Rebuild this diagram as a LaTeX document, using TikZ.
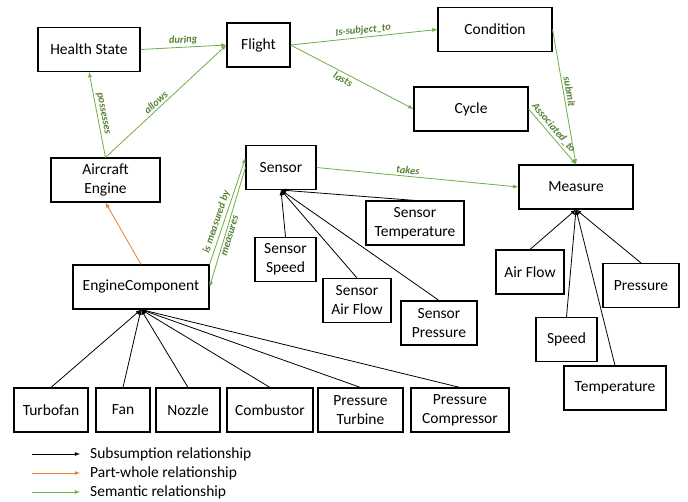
\documentclass[tikz,border=0pt]{standalone}
\usepackage{fontspec}
\setmainfont{Carlito}
\usepackage{xcolor}
\definecolor{semgreen}{HTML}{70AD47}
\definecolor{labgreen}{HTML}{548235}
\definecolor{partorange}{HTML}{ED7D31}

\begin{document}
\begin{tikzpicture}[x=1pt,y=-1pt,
    box/.style={draw, line width=1.1pt, inner sep=0pt, minimum height=44pt, align=center,
        font=\fontsize{15.5}{19}\selectfont},
    sub/.style={-latex, line width=0.8pt},
    part/.style={-latex, partorange, line width=0.8pt},
    sem/.style={-latex, semgreen, line width=0.8pt},
    rel/.style={sloped, inner sep=2pt, text=labgreen, font=\fontsize{10.5}{12}\selectfont\bfseries\itshape},
    legtext/.style={anchor=west, inner sep=0pt, font=\fontsize{15.5}{19}\selectfont}]
    \useasboundingbox (0,0) rectangle (688,502);

    % Top row: states and flight
    \node[box, minimum width=102pt] (health) at (89,49.5) {Health State};
    \node[box, minimum width=63pt] (flight) at (258.5,45) {Flight};
    \node[box, minimum width=114pt] (condition) at (495,29.5) {Condition};
    \node[box, minimum width=114pt] (cycle) at (471,109) {Cycle};

    % Engine, sensors and measures
    \node[box, minimum width=109pt] (engine) at (105.5,180) {Aircraft\\Engine};
    \node[box, minimum width=70pt] (sensor) at (281,167.5) {Sensor};
    \node[box, minimum width=114pt] (measure) at (576,187) {Measure};
    \node[box, minimum width=136pt] (enginecomp) at (141,287) {EngineComponent};

    \node[box, minimum width=98pt] (stemp) at (415,223) {Sensor\\Temperature};
    \node[box, minimum width=61pt] (sspeed) at (285.5,259.5) {Sensor\\Speed};
    \node[box, minimum width=68pt] (sairflow) at (357,300.5) {Sensor\\Air Flow};
    \node[box, minimum width=76pt] (spressure) at (439,323) {Sensor\\Pressure};

    \node[box, minimum width=68pt] (airflow) at (530,272) {Air Flow};
    \node[box, minimum width=76pt] (pressure) at (641,285.5) {Pressure};
    \node[box, minimum width=61pt] (speed) at (566.5,339.5) {Speed};
    \node[box, minimum width=102pt] (temperature) at (615,388) {Temperature};

    % Bottom row: engine components
    \node[box, minimum width=74pt] (turbofan) at (51,410) {Turbofan};
    \node[box, minimum width=54pt] (fan) at (123,410) {Fan};
    \node[box, minimum width=64pt] (nozzle) at (188,410) {Nozzle};
    \node[box, minimum width=86pt] (combustor) at (270,410) {Combustor};
    \node[box, minimum width=85pt] (pturbine) at (360.5,410) {Pressure\\Turbine};
    \node[box, minimum width=98pt] (pcompressor) at (460,410) {Pressure\\Compressor};

    % Semantic relationships
    \draw[sem] (health.east) -- (flight.west) node[rel, midway, above] {during};
    \draw[sem] (engine.north) -- (health.south) node[rel, midway, above] {possesses};
    \draw[sem] (engine.north) -- (flight.west) node[rel, pos=0.45, above] {allows};
    \draw[sem] (flight.east) -- (condition.west) node[rel, midway, above] {Is-subject\_to};
    \draw[sem] (flight.east) -- (cycle.west) node[rel, pos=0.45, below] {lasts};
    \draw[sem] (condition.east) -- (measure.north) node[rel, pos=0.47, above] {submit};
    \draw[sem] (cycle.east) -- (measure.north) node[rel, pos=0.42, above] {Associated\_to};
    \draw[sem] (sensor.east) -- (measure.west) node[rel, pos=0.45, above] {takes};
    \draw[sem] (enginecomp.north east) -- (sensor.165) node[rel, pos=0.38, above] {is measured by};
    \draw[sem] (sensor.west) -- (enginecomp.east) node[rel, pos=0.56, below] {measures};

    % Part-whole relationship
    \draw[part] (enginecomp.north) -- (engine.south);

    % Subsumption relationships
    \draw[sub] (turbofan.north) -- (enginecomp.south);
    \draw[sub] (fan.north) -- (enginecomp.south);
    \draw[sub] (nozzle.north) -- (enginecomp.south);
    \draw[sub] (combustor.north) -- (enginecomp.south);
    \draw[sub] (pturbine.north) -- (enginecomp.south);
    \draw[sub] (pcompressor.north) -- (enginecomp.south);
    \draw[sub] (stemp.north) -- (sensor.south);
    \draw[sub] (sspeed.north) -- (sensor.south);
    \draw[sub] (sairflow.north) -- (sensor.south);
    \draw[sub] (spressure.north) -- (sensor.south);
    \draw[sub] (airflow.north) -- (measure.south);
    \draw[sub] (speed.north) -- (measure.south);
    \draw[sub] (temperature.north) -- (measure.south);
    \draw[sub] (pressure.north) -- (measure.south);

    % Legend
    \coordinate (lsub) at (32,454);
    \coordinate (lpart) at (32,473);
    \coordinate (lsem) at (32,492);
    \node[legtext] (legsub) at (90,454) {Subsumption relationship};
    \node[legtext] (legpart) at (90,473) {Part-whole relationship};
    \node[legtext] (legsem) at (90,492) {Semantic relationship};
    \draw[sub, shorten >=10pt] (lsub) -- (legsub.west);
    \draw[part, shorten >=10pt] (lpart) -- (legpart.west);
    \draw[sem, shorten >=10pt] (lsem) -- (legsem.west);
\end{tikzpicture}
\end{document}
